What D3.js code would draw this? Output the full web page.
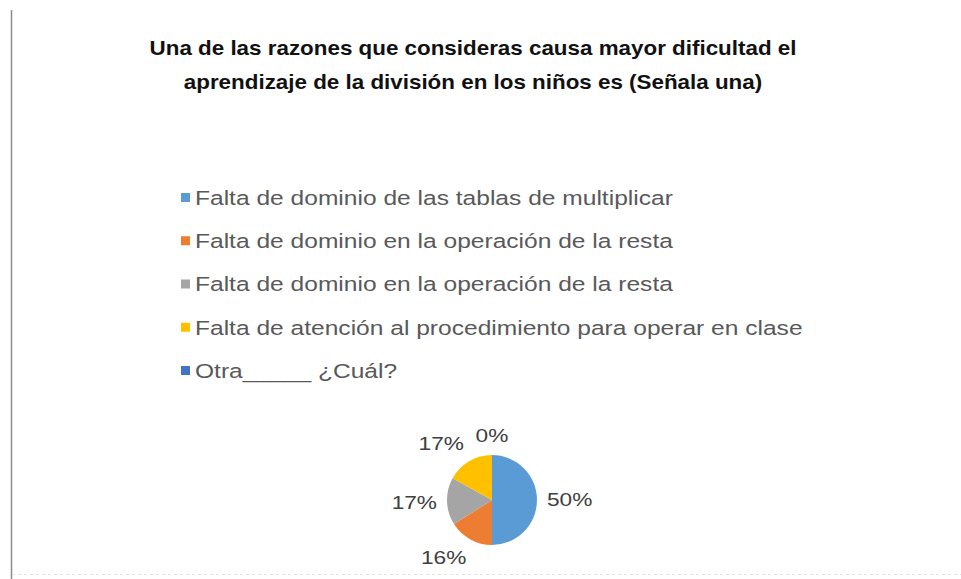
<!DOCTYPE html>
<html>
<head>
<meta charset="utf-8">
<script src="https://cdn.jsdelivr.net/npm/d3@7"></script>
<style>
  body { margin: 0; background: #fff; }
  svg { display: block; font-family: "Liberation Sans", Arial, sans-serif; }
</style>
</head>
<body>
<svg id="chart"></svg>
<script>
const titleLines = [
  "Una de las razones que consideras causa mayor  dificultad el",
  "aprendizaje de la división en los niños es (Señala una)"
];
const categories = [
  "Falta de dominio de las tablas de multiplicar",
  "Falta de dominio en la operación de la resta",
  "Falta de dominio en la operación de la resta",
  "Falta de atención al procedimiento para operar en clase",
  "Otra_____ ¿Cuál?"
];
const values = [50, 16, 17, 17, 0];
const colors = ["#5B9BD5", "#ED7D31", "#A5A5A5", "#FFC000", "#4472C4"];

const width = 961;
const height = 579;
// the source image is stretched sideways, so text gets a horizontal scale
const stretch = 1.26;

const svg = d3.select("#chart").attr("width", width).attr("height", height);

// frame
svg.append("line")
  .attr("x1", 11.5).attr("x2", 11.5).attr("y1", 10).attr("y2", height)
  .attr("stroke", "#8c8c8c").attr("stroke-width", 1.5);
svg.append("line")
  .attr("x1", 12).attr("x2", width).attr("y1", 574.5).attr("y2", 574.5)
  .attr("stroke", "#e4e4e4").attr("stroke-width", 1)
  .attr("stroke-dasharray", "3,3");

// title
svg.append("g")
  .selectAll("text")
  .data(titleLines)
  .join("text")
  .attr("transform", (d, i) => `translate(473,${55 + i * 34}) scale(1.12,1)`)
  .attr("text-anchor", "middle")
  .attr("font-size", 20)
  .attr("font-weight", "bold")
  .attr("fill", "#111")
  .text((d) => d);

// legend
const legendY = d3.scalePoint()
  .domain(d3.range(categories.length))
  .range([198, 371]);

const legend = svg.append("g")
  .selectAll("g")
  .data(categories)
  .join("g")
  .attr("transform", (d, i) => `translate(181,${legendY(i)})`);

legend.append("rect")
  .attr("x", 0).attr("y", -5)
  .attr("width", 9).attr("height", 9)
  .attr("fill", (d, i) => colors[i]);

legend.append("text")
  .attr("transform", `translate(14,0) scale(${stretch},1)`)
  .attr("dy", "0.35em")
  .attr("font-size", 19.5)
  .attr("fill", "#595959")
  .text((d) => d);

// pie
const cx = 492;
const cy = 500;
const radius = 45;

const pie = d3.pie().sort(null).value((d) => d);
const arcs = pie(values);

const arc = d3.arc().innerRadius(0).outerRadius(radius);
const labelArc = d3.arc().innerRadius(radius + 10).outerRadius(radius + 10);

const g = svg.append("g").attr("transform", `translate(${cx},${cy})`);

g.selectAll("path")
  .data(arcs)
  .join("path")
  .attr("d", arc)
  .attr("fill", (d, i) => colors[i]);

// labels sit just outside the rim, pushed out by half their box
const clamp = (v) => Math.max(-1, Math.min(1, v));
g.selectAll("text")
  .data(arcs)
  .join("text")
  .attr("text-anchor", "middle")
  .attr("dy", "0.35em")
  .attr("font-size", 18)
  .attr("fill", "#404040")
  .text((d) => `${d.data}%`)
  .attr("transform", function (d) {
    const [x, y] = labelArc.centroid(d);
    const a = (d.startAngle + d.endAngle) / 2;
    const w = this.getComputedTextLength() * stretch;
    const h = 18;
    const ox = (w / 2) * clamp(Math.sin(a) * 2);
    const oy = (h / 2) * clamp(-Math.cos(a) * 2);
    return `translate(${x + ox},${y + oy}) scale(${stretch},1)`;
  });
</script>
</body>
</html>
